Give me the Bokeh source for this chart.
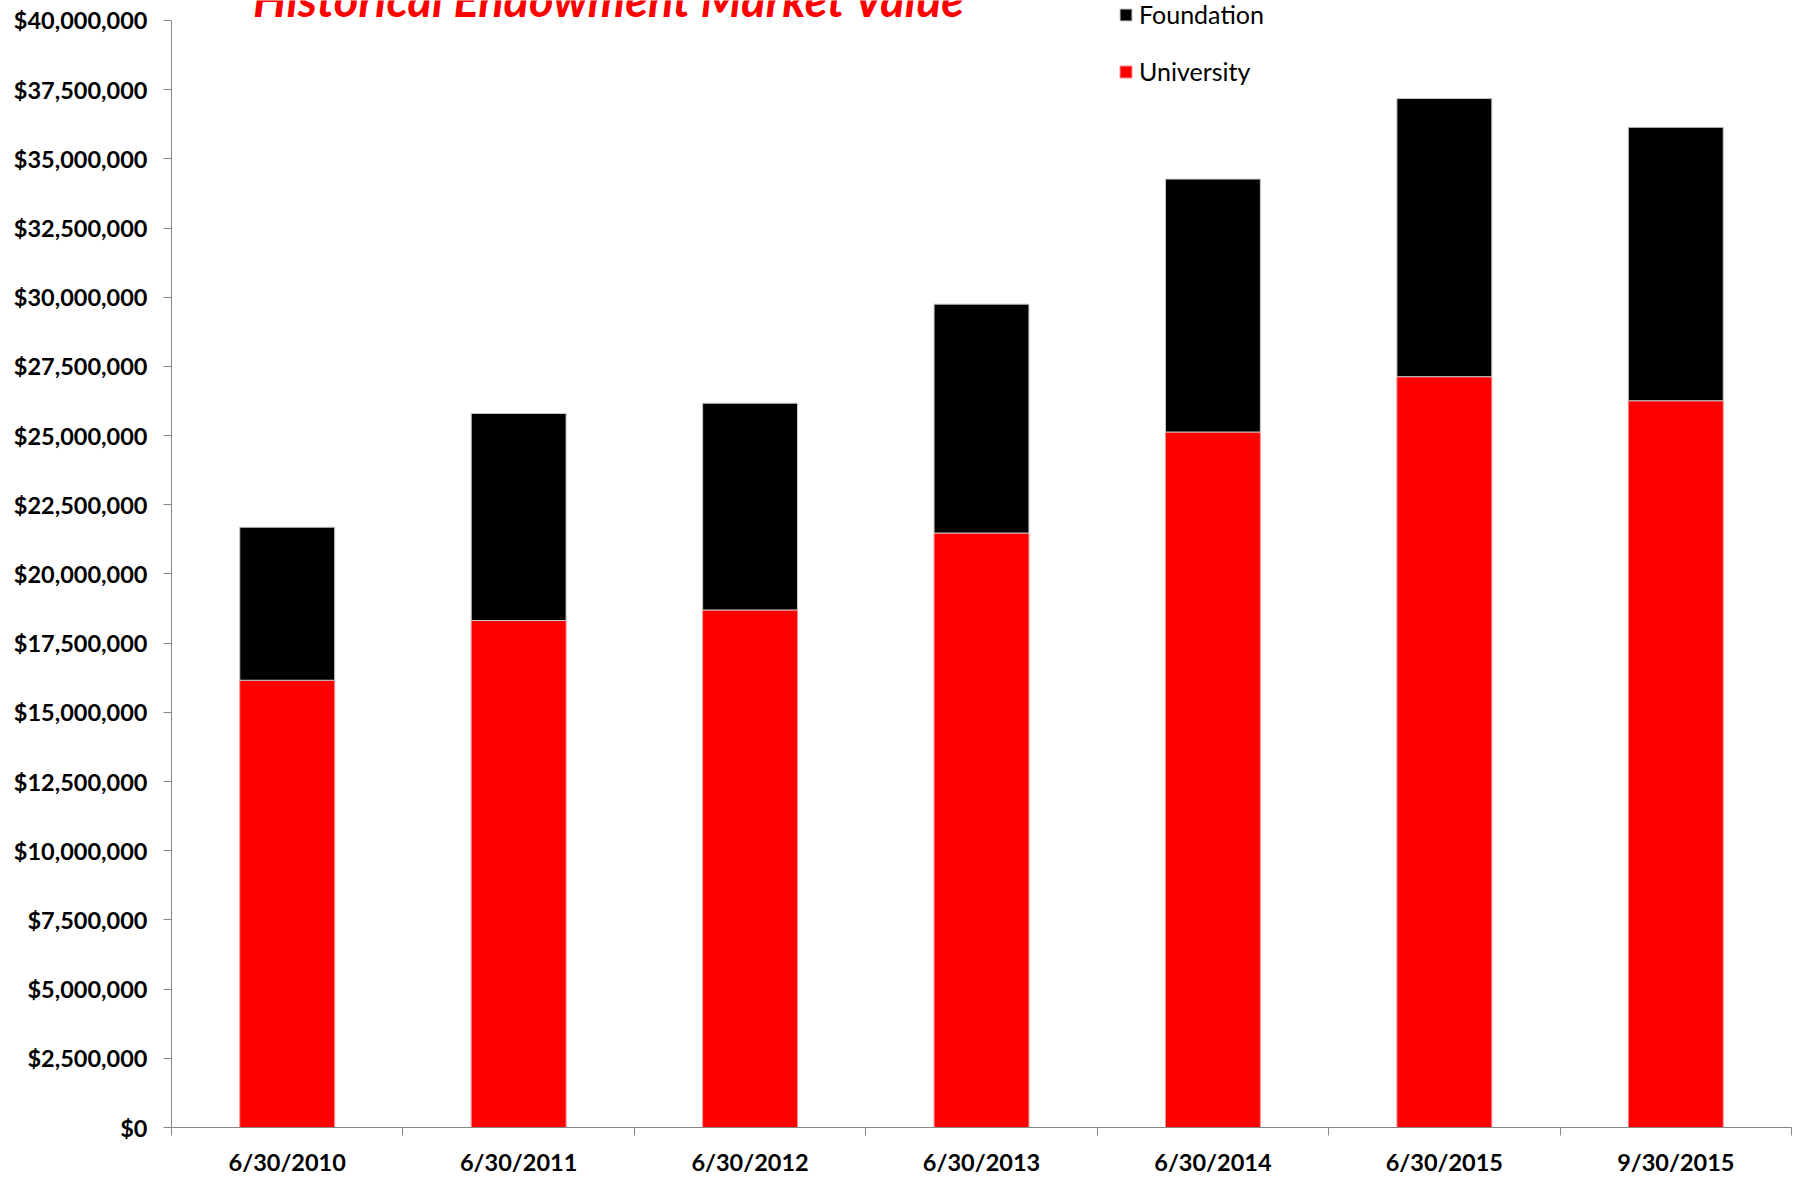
from bokeh.plotting import figure
from bokeh.models import (ColumnDataSource, FixedTicker, NumeralTickFormatter, Legend,
                          LegendItem, Label, Range1d)
from bokeh.embed import file_html
from bokeh.resources import INLINE

categories = ["6/30/2010", "6/30/2011", "6/30/2012", "6/30/2013", "6/30/2014", "6/30/2015", "9/30/2015"]
university = [16.16e6, 18.32e6, 18.70e6, 21.48e6, 25.13e6, 27.13e6, 26.26e6]
foundation = [5.53e6, 7.48e6, 7.47e6, 8.27e6, 9.14e6, 10.05e6, 9.88e6]
y_ticks = [i * 2.5e6 for i in range(17)]
y_max = 40e6
title_text = "Historical Endowment Market Value"

FONT = "Lato"
n = len(categories)
centers = [i + 0.5 for i in range(n)]
bounds = [float(i) for i in range(n + 1)]

# frame reaches the top of the canvas; the axis itself stops at y_max (20px below the top)
FRAME_H = 1128
AXIS_H = 1108
source = ColumnDataSource(dict(x=centers, university=university, foundation=foundation))

p = figure(width=1805, height=1178, output_backend="svg", toolbar_location=None,
           x_range=Range1d(0, n), y_range=Range1d(0, y_max * FRAME_H / AXIS_H),
           min_border_left=171, min_border_right=14, min_border_top=0, min_border_bottom=50)
p.outline_line_color = None
p.xgrid.visible = False
p.ygrid.visible = False
p.background_fill_color = "white"
p.border_fill_color = "white"

r = p.vbar_stack(["university", "foundation"], x="x", width=0.41, source=source,
                 fill_color=["#ff0000", "#000000"],
                 line_color=["#ff9090", "#c8c8c8"], line_width=1)

# y axis
ya = p.yaxis[0]
ya.bounds = (0, y_max)
ya.ticker = FixedTicker(ticks=y_ticks, minor_ticks=[])
ya.formatter = NumeralTickFormatter(format="$0,0")
ya.axis_line_color = "#868686"
ya.major_tick_line_color = "#868686"
ya.major_tick_in = 0
ya.major_tick_out = 8
ya.minor_tick_line_color = None
ya.major_label_standoff = 16
ya.major_label_text_font = FONT
ya.major_label_text_font_style = "bold"
ya.major_label_text_font_size = "23.5px"
ya.major_label_text_color = "#000000"

# x axis
xa = p.xaxis[0]
xa.ticker = FixedTicker(ticks=centers, minor_ticks=bounds)
xa.major_label_overrides = {c: lab for c, lab in zip(centers, categories)}
xa.axis_line_color = "#868686"
xa.major_tick_line_color = None
xa.major_tick_in = 0
xa.major_tick_out = 8
xa.minor_tick_line_color = "#868686"
xa.minor_tick_in = 0
xa.minor_tick_out = 8
xa.major_label_standoff = 12
xa.major_label_text_font = FONT
xa.major_label_text_font_style = "bold"
xa.major_label_text_font_size = "23.5px"
xa.major_label_text_color = "#000000"

legend = Legend(items=[LegendItem(label="Foundation", renderers=[r[1]]),
                       LegendItem(label="University", renderers=[r[0]])],
                location=(947, 1041), orientation="vertical",
                border_line_color=None, background_fill_alpha=0,
                padding=0, margin=0, spacing=27,
                glyph_width=15, glyph_height=15, label_height=26,
                label_standoff=6,
                label_text_font=FONT, label_text_font_size="25px", label_text_color="#000000")
p.add_layout(legend)

title = Label(x=438, y=1129, x_units="screen", y_units="screen", text=title_text,
              text_align="center", text_baseline="alphabetic",
              text_font=FONT, text_font_style="bold italic", text_font_size="47px",
              text_color="#ff0000")
p.add_layout(title)

open("out.html", "w").write(file_html(p, INLINE))
